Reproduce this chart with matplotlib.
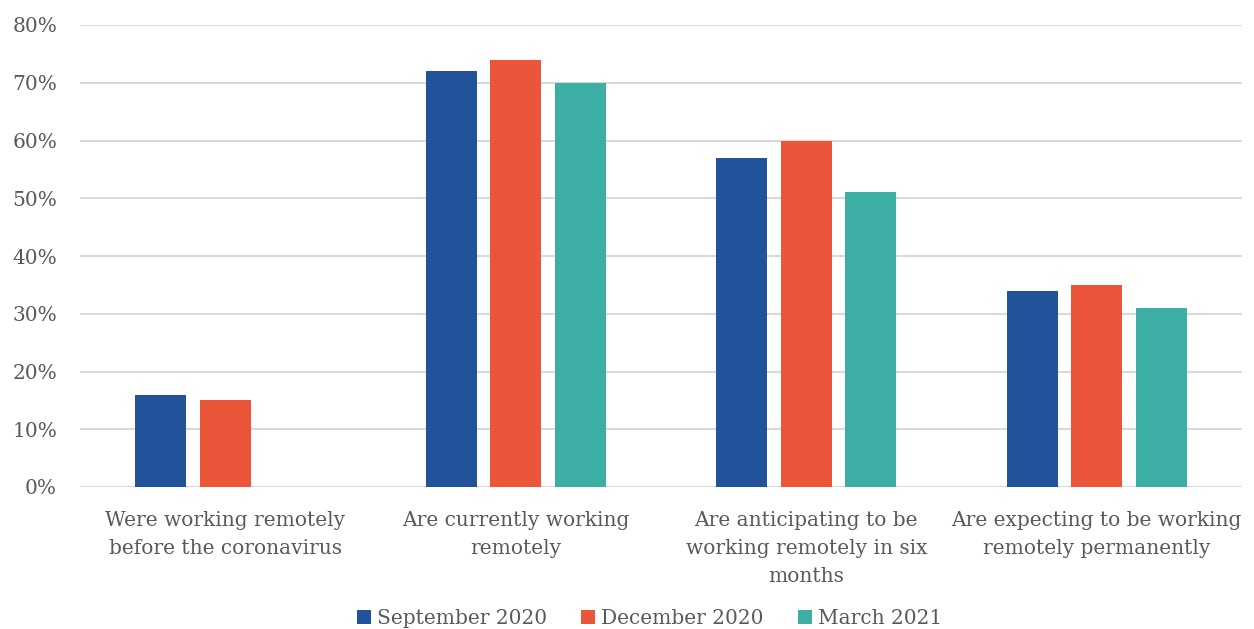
import numpy as np
import matplotlib
matplotlib.use("Agg")
import matplotlib.pyplot as plt
from matplotlib.ticker import FuncFormatter

categories = [
    "Were working remotely\nbefore the coronavirus",
    "Are currently working\nremotely",
    "Are anticipating to be\nworking remotely in six\nmonths",
    "Are expecting to be working\nremotely permanently",
]
series_names = ["September 2020", "December 2020", "March 2021"]
sep_2020 = [16, 72, 57, 34]
dec_2020 = [15, 74, 60, 35]
mar_2021 = [np.nan, 70, 51, 31]
colors = ["#21529A", "#EB553A", "#3CAEA3"]

plt.rcParams["font.family"] = ["DejaVu Serif"]
text_color = "#595959"

fig = plt.figure(figsize=(12.54, 6.29), dpi=100)
ax = fig.add_axes([80 / 1254, 1 - 487 / 629, 1162 / 1254, 462 / 629])

x = np.arange(len(categories))
width = 0.175
step = 0.222
for i, (vals, name, c) in enumerate(zip([sep_2020, dec_2020, mar_2021], series_names, colors)):
    ax.bar(x + (i - 1) * step, vals, width, color=c, label=name, zorder=3)

ax.set_xlim(-0.5, len(categories) - 0.5)
ax.set_ylim(0, 80)
ax.set_yticks(range(0, 81, 10))
ax.yaxis.set_major_formatter(FuncFormatter(lambda v, p: f"{int(v)}%"))
ax.grid(axis="y", color="#D9D9D9", linewidth=1.5, zorder=0)
for s in ax.spines.values():
    s.set_visible(False)
ax.tick_params(axis="both", length=0, colors=text_color, labelsize=14.5)
ax.tick_params(axis="y", pad=16.5)
ax.set_xticks(x)
ax.set_xticklabels(categories, linespacing=1.6)
ax.tick_params(axis="x", pad=17)

leg = fig.legend(loc="lower center", bbox_to_anchor=(0.518, -0.027), ncol=3, frameon=False,
                 fontsize=14.5, handlelength=0.7, handleheight=0.7, handletextpad=0.3,
                 columnspacing=1.7)
for t in leg.get_texts():
    t.set_color(text_color)

fig.savefig("out.png", dpi=100)
